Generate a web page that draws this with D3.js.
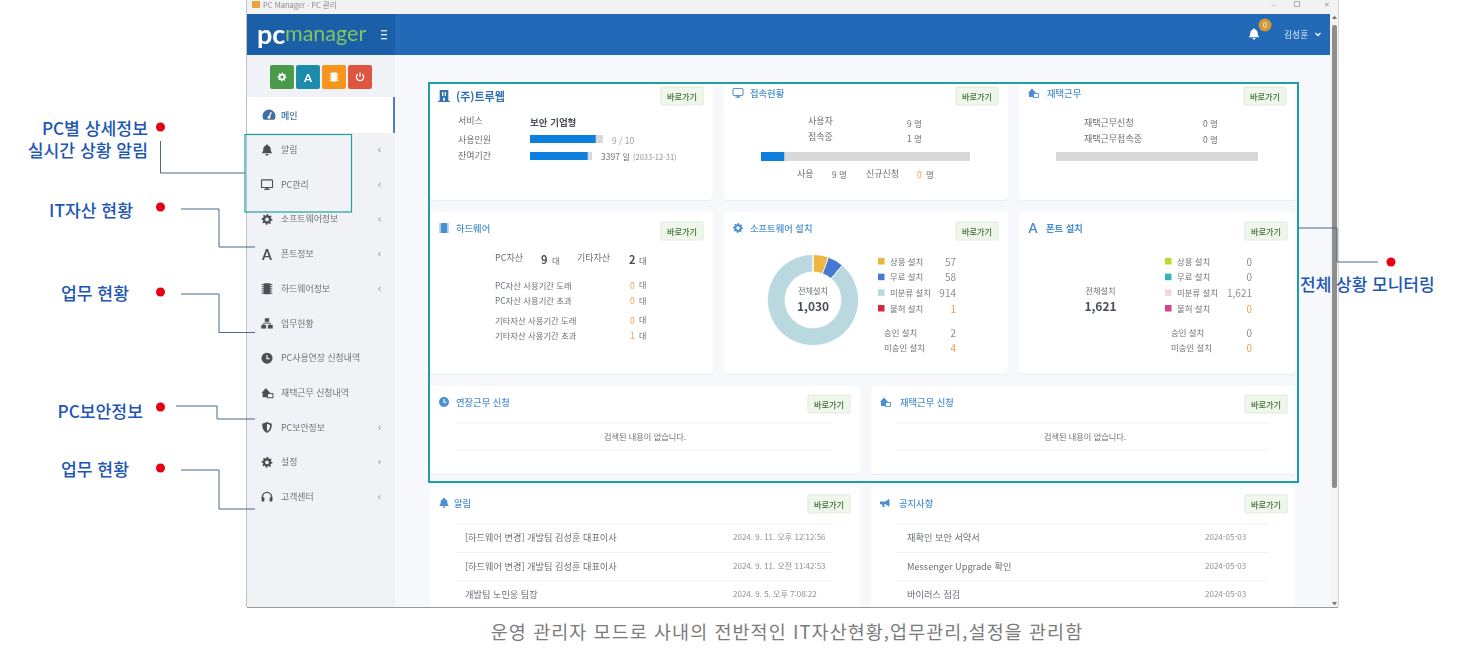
<!DOCTYPE html>
<html lang="ko">
<head>
<meta charset="utf-8">
<title>PC Manager</title>
<script src="https://cdn.jsdelivr.net/npm/d3@7"></script>
<style>
html, body { margin: 0; padding: 0; background: #fff; overflow: hidden; }
text { font-family: "Noto Sans CJK KR", "Noto Sans", sans-serif; }
</style>
</head>
<body>
<div id="chart"></div>
<script>
// data
const menuLabels = ["알림", "PC관리", "소프트웨어정보", "폰트정보", "하드웨어정보", "업무현황", "PC사용연장 신청내역", "재택근무 신청내역", "PC보안정보", "설정", "고객센터"];
const menuIcons = ["bell", "monitor", "gear", "font", "chip", "sitemap", "clock", "house", "shield", "gear", "headset"];
const menuHasArrow = [true, true, true, true, true, false, false, false, true, true, true];

const softwareLabels = ["상용 설치", "무료 설치", "미분류 설치", "불허 설치"];
const softwareValues = [57, 58, 914, 1];
const softwareColors = ["#edb63f", "#4479d4", "#b9d8df", "#d2293f"];
const fontValues = [0, 0, 1621, 0];
const fontColors = ["#bfd72f", "#35b3bd", "#f0d8de", "#d9408f"];
const softwareApproval = [["승인 설치", 2], ["미승인 설치", 4]];
const fontApproval = [["승인 설치", 0], ["미승인 설치", 0]];

const licenseUsed = 9, licenseTotal = 10;
const daysLeft = 3397, daysTotal = 3650;
const usersTotal = 9, usersOnline = 1;

const alertTexts = ["[하드웨어 변경] 개발팀 김성훈 대표이사", "[하드웨어 변경] 개발팀 김성훈 대표이사", "개발팀 노민웅 팀장"];
const alertDates = ["2024. 9. 11. 오후 12:12:56", "2024. 9. 11. 오전 11:42:53", "2024. 9. 5. 오후 7:08:22"];
const noticeTexts = ["재확인 보안 서약서", "Messenger Upgrade 확인", "바이러스 점검"];
const noticeDates = ["2024-05-03", "2024-05-03", "2024-05-03"];

const hwRows = [["PC자산 사용기간 도래", 0], ["PC자산 사용기간 초과", 0], ["기타자산 사용기간 도래", 0], ["기타자산 사용기간 초과", 1]];

const calloutLabels = [["PC별 상세정보", "실시간 상황 알림"], ["IT자산 현황"], ["업무 현황"], ["PC보안정보"], ["업무 현황"]];
const caption = "운영 관리자 모드로 사내의 전반적인 IT자산현황,업무관리,설정을 관리함";

const width = 1467, height = 655;
const svg = d3.select("#chart").append("svg").attr("width", width).attr("height", height).style("display", "block");

// the app part of the picture is a soft screenshot
svg.append("defs").append("filter").attr("id", "soft")
    .attr("x", "0").attr("y", "0").attr("width", "100%").attr("height", "100%")
    .append("feGaussianBlur").attr("stdDeviation", 0.3);

const blue = "#4a90d0", grey = "#6b6f76", dark = "#4a4e57", orange = "#efa04c", teal = "#1f9ea3";

function label(parent, x, y, str, o) {
    o = o || {};
    return parent.append("text")
        .attr("x", x).attr("y", y)
        .attr("dominant-baseline", "central")
        .attr("text-anchor", o.anchor || "start")
        .style("font-size", (o.size || 9) + "px")
        .style("font-weight", o.weight || 400)
        .style("fill", o.color || grey)
        .text(str);
}

function box(parent, x, y, w, h, fill, r) {
    return parent.append("rect").attr("x", x).attr("y", y).attr("width", w).attr("height", h)
        .attr("rx", r || 0).style("fill", fill);
}

function gearPath(r) {
    let d = "";
    const teeth = 8;
    for (let i = 0; i < teeth * 4; i++) {
        const a = (i / (teeth * 4)) * 2 * Math.PI;
        const rr = (i % 4 < 2) ? r : r * 0.74;
        d += (i ? "L" : "M") + (rr * Math.sin(a)).toFixed(2) + "," + (-rr * Math.cos(a)).toFixed(2);
    }
    return d + "Z";
}

// small icons, drawn around (x, y) with size s
function icon(parent, name, x, y, s, color, hole) {
    const g = parent.append("g").attr("transform", `translate(${x},${y}) scale(${s / 10})`).style("fill", color);
    const bg = hole || "#f1f2f6";
    if (name === "gear") {
        g.append("path").attr("d", gearPath(5));
        g.append("circle").attr("r", 1.7).style("fill", bg);
    } else if (name === "bell") {
        g.append("path").attr("d", "M0,-5 C-0.8,-5 -1,-4.4 -1,-4 C-3,-3.4 -3.4,-1.6 -3.4,0 C-3.4,1.5 -4.6,2.4 -4.8,3 L4.8,3 C4.6,2.4 3.4,1.5 3.4,0 C3.4,-1.6 3,-3.4 1,-4 C1,-4.4 0.8,-5 0,-5Z");
        g.append("path").attr("d", "M-1.4,3.6 A1.4,1.4 0 0 0 1.4,3.6Z");
    } else if (name === "monitor") {
        g.append("rect").attr("x", -5).attr("y", -4.4).attr("width", 10).attr("height", 7).attr("rx", 0.6)
            .style("fill", "none").style("stroke", color).style("stroke-width", 1);
        g.append("rect").attr("x", -1.2).attr("y", 2.6).attr("width", 2.4).attr("height", 1.4);
        g.append("rect").attr("x", -2.6).attr("y", 3.8).attr("width", 5.2).attr("height", 0.9);
    } else if (name === "font") {
        g.append("text").attr("text-anchor", "middle").attr("dominant-baseline", "central")
            .style("font-size", "13px").style("font-weight", 700).style("font-family", "Lato, sans-serif").text("A");
    } else if (name === "chip") {
        g.append("rect").attr("x", -3).attr("y", -5).attr("width", 6).attr("height", 10).attr("rx", 1);
        d3.range(5).forEach(i => {
            g.append("rect").attr("x", -4.8).attr("y", -4.4 + i * 2).attr("width", 9.6).attr("height", 0.9);
        });
    } else if (name === "sitemap") {
        g.append("rect").attr("x", -2).attr("y", -4.8).attr("width", 4).attr("height", 3.2);
        g.append("rect").attr("x", -5.2).attr("y", 1.2).attr("width", 4.4).attr("height", 3.4);
        g.append("rect").attr("x", 0.8).attr("y", 1.2).attr("width", 4.4).attr("height", 3.4);
        g.append("path").attr("d", "M-3,1.2 V-0.3 H3 V1.2 M0,-1.6 V-0.3").style("fill", "none").style("stroke", color).style("stroke-width", 0.8);
    } else if (name === "clock") {
        g.append("circle").attr("r", 5);
        g.append("path").attr("d", "M0,-3 V0.3 H2.4").style("fill", "none").style("stroke", bg).style("stroke-width", 1.1);
    } else if (name === "house") {
        g.append("path").attr("d", "M-5,0 L-1,-4.4 L3,0 L2,0 L2,4 L-4,4 L-4,0Z");
        g.append("rect").attr("x", 0.4).attr("y", 0.6).attr("width", 5).attr("height", 3.8)
            .style("fill", bg).style("stroke", color).style("stroke-width", 0.9);
    } else if (name === "shield") {
        g.append("path").attr("d", "M0,-5 L4.4,-3.4 C4.4,0.6 3.2,3.6 0,5 C-3.2,3.6 -4.4,0.6 -4.4,-3.4Z");
        g.append("path").attr("d", "M0,-3.4 L2.8,-2.4 C2.8,0.2 2,2.2 0,3.3Z").style("fill", bg);
    } else if (name === "headset") {
        g.append("path").attr("d", "M-4.2,2 V0 A4.2,4.2 0 0 1 4.2,0 V2").style("fill", "none").style("stroke", color).style("stroke-width", 1.3);
        g.append("rect").attr("x", -4.9).attr("y", 0.2).attr("width", 2.5).attr("height", 4).attr("rx", 0.8);
        g.append("rect").attr("x", 2.4).attr("y", 0.2).attr("width", 2.5).attr("height", 4).attr("rx", 0.8);
    } else if (name === "gauge") {
        g.append("path").attr("d", "M-4.4,4 A5.4,5.4 0 1 1 4.4,4Z");
        g.append("path").attr("d", "M0,2.2 L1.8,-2.4").style("stroke", "#fff").style("stroke-width", 1.1);
        g.append("circle").attr("cy", 2).attr("r", 1.2).style("fill", "#fff");
    } else if (name === "building") {
        g.append("rect").attr("x", -3.6).attr("y", -5).attr("width", 7.2).attr("height", 9.2);
        g.append("rect").attr("x", -4.8).attr("y", 4).attr("width", 9.6).attr("height", 1);
        g.append("rect").attr("x", -1.6).attr("y", -3.4).attr("width", 1.1).attr("height", 3.4).style("fill", "#fff");
        g.append("rect").attr("x", 0.6).attr("y", -3.4).attr("width", 1.1).attr("height", 3.4).style("fill", "#fff");
        g.append("rect").attr("x", -0.7).attr("y", 1.4).attr("width", 1.4).attr("height", 2.6).style("fill", "#fff");
    } else if (name === "bullhorn") {
        g.append("path").attr("d", "M-5,-1.6 L0.5,-1.6 L4.4,-4.2 L4.4,3.8 L0.5,1.2 L-1,1.2 L-0.2,4 L-2.2,4 L-3.2,1.2 L-5,1.2Z");
    } else if (name === "power") {
        g.append("path").attr("d", "M-2.6,-3 A4,4 0 1 0 2.6,-3").style("fill", "none").style("stroke", color).style("stroke-width", 1.4);
        g.append("rect").attr("x", -0.7).attr("y", -5).attr("width", 1.4).attr("height", 4.8);
    }
    return g;
}

// --- window frame ---
const win = svg.append("g").attr("filter", "url(#soft)");
box(win, 247, 0, 1091, 607, "#f6f8fc");
win.append("line").attr("x1", 246.5).attr("x2", 246.5).attr("y1", 0).attr("y2", 607).style("stroke", "#bfc2c6");
win.append("line").attr("x1", 1338.5).attr("x2", 1338.5).attr("y1", 0).attr("y2", 607).style("stroke", "#d8d8d8");

// title bar
box(win, 247, 0, 1091, 14, "#f2f2f2");
box(win, 252, 1, 8, 7, "#e8a33c");
label(win, 263, 4, "PC Manager · PC 관리", { size: 7.5, color: "#8a8a8a" });
label(win, 1271, 3.5, "—", { size: 6.5, color: "#9a9a9a" });
win.append("rect").attr("x", 1294.5).attr("y", 1.5).attr("width", 5).attr("height", 5).style("fill", "none").style("stroke", "#b0b0b0");
label(win, 1324, 4, "✕", { size: 7, color: "#9a9a9a" });

// header
box(win, 247, 14, 1083, 41, "#2169b8");
box(win, 247, 14, 148, 41, "#1f5fa9");
label(win, 257, 33, "pc", { size: 27, weight: 700, color: "#fff" }).style("font-family", "Lato, sans-serif");
label(win, 285, 33, "manager", { size: 21.5, weight: 400, color: "#7fc562" }).style("font-family", "Lato, sans-serif");
[31, 35, 39].forEach(y => box(win, 381, y - 1, 6, 1.4, "#dfe9f4"));
icon(win, "bell", 1254, 34, 11, "#fff");
win.append("circle").attr("cx", 1265).attr("cy", 25).attr("r", 6.5).style("fill", "#d19a35");
label(win, 1265, 25, "0", { size: 7, color: "#fff", anchor: "middle" });
label(win, 1284, 34.5, "김성훈", { size: 8.8, color: "#e6eef7" });
win.append("path").attr("d", "M1315.5,33 L1318,35.5 L1320.5,33").style("fill", "none").style("stroke", "#fff").style("stroke-width", 1.3);

// scrollbar
box(win, 1330, 14, 8, 593, "#f4f4f4");
box(win, 1332, 25, 5, 463, "#8e8e8e", 2);
win.append("path").attr("d", "M1332,19 L1334.5,15.5 L1337,19Z").style("fill", "#777");
win.append("path").attr("d", "M1332,602 L1334.5,605.5 L1337,602Z").style("fill", "#777");

// --- sidebar ---
const side = svg.append("g").attr("filter", "url(#soft)");
box(side, 247, 55, 148, 552, "#f1f2f6");
const quickColors = ["#4a9a4a", "#1c8cad", "#f7941d", "#de563f"];
const quickIcons = ["gear", "font", "chip", "power"];
const quickX = d3.scaleBand().domain(d3.range(4)).range([270, 372]).paddingInner(0.08);
quickColors.forEach((c, i) => {
    box(side, quickX(i), 65, quickX.bandwidth(), 24, c, 2);
    icon(side, quickIcons[i], quickX(i) + quickX.bandwidth() / 2, 77, 9, "#fff", c);
});
box(side, 247, 97, 148, 36, "#fff");
box(side, 393, 97, 2, 36, "#4d7fb5");
icon(side, "gauge", 269, 115, 12, "#3f6fa3");
label(side, 281, 115, "메인", { size: 9, weight: 500, color: "#3f6fa3" });

const menuY = d3.scalePoint().domain(d3.range(menuLabels.length)).range([150, 497]);
menuLabels.forEach((m, i) => {
    const y = menuY(i);
    icon(side, menuIcons[i], 267, y, 11, "#4c4f55");
    label(side, 281, y - 0.5, m, { size: 8.9, color: "#6f7278" });
    if (menuHasArrow[i]) {
        side.append("path").attr("d", `M380.5,${y - 1.8} L378.5,${y} L380.5,${y + 1.8}`)
            .style("fill", "none").style("stroke", "#8a8d92").style("stroke-width", 1);
    }
});

// --- cards ---
const main = svg.append("g").attr("filter", "url(#soft)");
function card(x, y, w, h, iconName, title, btnX, titleOpts) {
    const g = main.append("g");
    g.append("rect").attr("x", x).attr("y", y + 1).attr("width", w).attr("height", h).attr("rx", 4).style("fill", "#e9ecf2");
    g.append("rect").attr("x", x).attr("y", y).attr("width", w).attr("height", h).attr("rx", 4).style("fill", "#fff");
    const o = titleOpts || {};
    icon(g, iconName, x + 14, y + o.dy, o.iconSize || 10, o.color || blue, "#fff");
    label(g, x + (o.tx || 26), y + o.dy, title, { size: o.size || 9.3, weight: o.weight || 500, color: o.color || blue });
    box(g, btnX, y + 4 + o.by, 42, 18, "#eef7ea", 1).style("stroke", "#dfe9dc");
    label(g, btnX + 21, y + 13 + o.by, "바로가기", { size: 8.2, weight: 500, color: "#3f6b3a", anchor: "middle" });
    return g;
}
function bar(g, x0, x1, y, h, frac, bg) {
    const s = d3.scaleLinear().domain([0, 1]).range([x0, x1]);
    box(g, s(0), y, s(1) - s(0), h, bg || "#d9d9d9");
    if (frac > 0) box(g, s(0), y, s(frac) - s(0), h, "#0f7fde");
}

// company
const c1 = card(430, 83, 283, 117, "building", "(주)트루웹", 661, { dy: 13, by: 0, size: 11, weight: 700, color: "#2f6fb0", iconSize: 12 });
label(c1, 458, 120.5, "서비스");
label(c1, 530, 122, "보안 기업형", { size: 9.5, weight: 700, color: dark });
label(c1, 458, 139, "사용인원");
bar(c1, 530, 603, 135, 8, licenseUsed / licenseTotal);
label(c1, 612, 140, `${licenseUsed} / ${licenseTotal}`, { size: 8.5, color: "#9a9da2" });
label(c1, 458, 155, "잔여기간");
bar(c1, 530, 592, 152, 8, daysLeft / daysTotal);
label(c1, 601, 155.5, `${daysLeft} 일`, { size: 8.5 });
label(c1, 633, 156, "(2033-12-31)", { size: 7.5, color: "#8b8e93" });

// connections
const c2 = card(724, 83, 284, 117, "monitor", "접속현황", 956, { dy: 10, by: 0 });
label(c2, 808, 120.5, "사용자");
label(c2, 808, 136.5, "접속중");
label(c2, 907, 122.5, `${usersTotal} 명`, { size: 8.5 });
label(c2, 907, 138, `${usersOnline} 명`, { size: 8.5 });
bar(c2, 761, 970, 152, 9, usersOnline / usersTotal);
label(c2, 797, 173, "사용");
label(c2, 832, 173.5, `${usersTotal} 명`, { size: 8.5 });
label(c2, 866, 173, "신규신청");
label(c2, 917, 173.5, "0", { size: 8.5, color: orange });
label(c2, 926, 173.5, "명", { size: 8.5 });

// remote work
const c3 = card(1019, 83, 276, 117, "house", "재택근무", 1244, { dy: 10, by: 0, tx: 28 });
label(c3, 1084, 122, "재택근무신청");
label(c3, 1084, 138, "재택근무접속중");
label(c3, 1203, 122.5, "0 명", { size: 8.5 });
label(c3, 1203, 138.5, "0 명", { size: 8.5 });
bar(c3, 1056, 1258, 152, 9, 0);

// hardware
const c4 = card(430, 212, 283, 162, "chip", "하드웨어", 661, { dy: 16, by: 6 });
label(c4, 495, 257.5, "PC자산");
label(c4, 541, 259, "9", { size: 11, weight: 700, color: dark });
label(c4, 552, 259.5, "대", { size: 8.5 });
label(c4, 577, 257, "기타자산");
label(c4, 629, 259, "2", { size: 11, weight: 700, color: dark });
label(c4, 639, 259.5, "대", { size: 8.5 });
const hwY = [284.5, 300, 319.5, 335];
hwRows.forEach((r, i) => {
    label(c4, 495, hwY[i], r[0], { size: 8.35 });
    label(c4, 630, hwY[i], r[1], { size: 8.5, color: orange });
    label(c4, 639, hwY[i], "대", { size: 8 });
});

// install legend block used by software and font cards
function legendBlock(g, labels, values, colors, approval, swatchX, textX, numX) {
    const rowY = d3.scalePoint().domain(d3.range(labels.length)).range([261, 308]);
    labels.forEach((l, i) => {
        box(g, swatchX, rowY(i) - 3, 6.5, 6.5, colors[i]);
        label(g, textX, rowY(i) - 0.5, l, { size: 8.4 });
        label(g, numX, rowY(i), d3.format(",")(values[i]), { size: 10, anchor: "end", color: i === 3 ? orange : "#8b8e93" });
    });
    const apY = [332, 347.5];
    approval.forEach((a, i) => {
        label(g, swatchX + 6, apY[i] - 0.5, a[0], { size: 8.4 });
        label(g, numX, apY[i], a[1], { size: 10, anchor: "end", color: i === 1 ? orange : "#8b8e93" });
    });
}

// software, donut
const c5 = card(724, 212, 284, 162, "gear", "소프트웨어 설치", 956, { dy: 16, by: 6 });
const pie = d3.pie().sort(null).value(d => d);
const arc = d3.arc().innerRadius(28).outerRadius(45.5);
const donut = c5.append("g").attr("transform", "translate(813,300)");
donut.selectAll("path")
    .data(pie(softwareValues))
    .enter()
    .append("path")
    .attr("d", arc)
    .style("fill", (d, i) => softwareColors[i])
    .style("stroke", "#fff")
    .style("stroke-width", 0.8);
label(donut, 0, -10, "전체설치", { size: 8.2, anchor: "middle" });
label(donut, 0, 5, d3.format(",")(d3.sum(softwareValues)), { size: 12, weight: 700, color: dark, anchor: "middle" });
legendBlock(c5, softwareLabels, softwareValues, softwareColors, softwareApproval, 878, 890, 956);

// font
const c6 = card(1019, 212, 276, 162, "font", "폰트 설치", 1245, { dy: 16, by: 6, weight: 700, tx: 27 });
label(c6, 1100.5, 290, "전체설치", { size: 8.2, anchor: "middle" });
label(c6, 1100.5, 305, d3.format(",")(d3.sum(fontValues)), { size: 12, weight: 700, color: dark, anchor: "middle" });
legendBlock(c6, softwareLabels, fontValues, fontColors, fontApproval, 1165, 1177, 1252);

// requests
const c7 = card(430, 386, 430, 88, "clock", "연장근무 신청", 808, { dy: 16, by: 5 });
const c8 = card(871, 386, 424, 88, "house", "재택근무 신청", 1245, { dy: 16, by: 5, tx: 29 });
[[c7, 456, 832, 645], [c8, 896, 1268, 1085]].forEach(a => {
    [423, 450].forEach(y => a[0].append("line").attr("x1", a[1]).attr("x2", a[2]).attr("y1", y).attr("y2", y).style("stroke", "#f0f1f3"));
    label(a[0], a[3], 436, "검색된 내용이 없습니다.", { size: 8.2, anchor: "middle" });
});

// lists, clipped at the window bottom
const c9 = card(430, 487, 430, 125, "bell", "알림", 808, { dy: 16, by: 4, tx: 24 });
const c10 = card(871, 487, 424, 125, "bullhorn", "공지사항", 1245, { dy: 16, by: 4, tx: 28 });
const listY = d3.scalePoint().domain([0, 1, 2]).range([537, 594]);
function listRows(g, texts, dates, lx0, lx1, tx, dx) {
    texts.forEach((t, i) => {
        const lineY = 524 + i * 28.5;
        g.append("line").attr("x1", lx0).attr("x2", lx1).attr("y1", lineY).attr("y2", lineY).style("stroke", "#f0f1f3");
        label(g, tx, listY(i), t, { size: 9.2 });
        label(g, dx, listY(i) - 0.5, dates[i], { size: 8, color: "#8b8e93" });
    });
}
listRows(c9, alertTexts, alertDates, 456, 832, 465, 733);
listRows(c10, noticeTexts, noticeDates, 896, 1268, 907, 1205);

// hide what runs past the window, redraw its bottom edge
box(svg, 245, 608, 1096, 47, "#fff");
svg.append("line").attr("x1", 247).attr("x2", 1338).attr("y1", 607.5).attr("y2", 607.5).style("stroke", "#9a9a9a");

// --- callouts ---
const over = svg.append("g");
over.append("rect").attr("x", 429).attr("y", 83).attr("width", 869).attr("height", 399)
    .style("fill", "none").style("stroke", teal).style("stroke-width", 2);
over.append("rect").attr("x", 245).attr("y", 134.5).attr("width", 106.5).attr("height", 77.5)
    .style("fill", "none").style("stroke", teal).style("stroke-width", 1.2);

const calloutDots = [127, 207, 292, 407, 468];
const calloutEnds = [148, 133, 129, 143, 129];
const calloutTextY = [126.5, 208.5, 291.5, 409.5, 467.5];
const leaders = [
    "M160.5,141 V173 H245",
    "M181,209 H219 V247 H255",
    "M181,294 H219 V332.5 H255",
    "M176,406 H217 V419 H255",
    "M181,470 H219 V509 H255",
    "M1298,228 H1337 V262 H1378"
];
const calloutBlue = "#1d56b4";
calloutLabels.forEach((lines, i) => {
    const t = label(over, calloutEnds[i], calloutTextY[i], null, { size: 17.2, weight: 500, color: calloutBlue, anchor: "end" });
    lines.forEach((s, j) => {
        t.append("tspan").attr("x", calloutEnds[i]).attr("dy", j ? 22 : 0).attr("dominant-baseline", "central").text(s);
    });
    over.append("circle").attr("cx", 160.5).attr("cy", calloutDots[i]).attr("r", 4.5).style("fill", "#e60012");
});
leaders.forEach(d => over.append("path").attr("d", d).style("fill", "none").style("stroke", "#47698a").style("stroke-width", 1));
over.append("circle").attr("cx", 1391).attr("cy", 262).attr("r", 4.5).style("fill", "#e60012");
label(over, 1300, 283.5, "전체 상황 모니터링", { size: 17, weight: 500, color: calloutBlue });

label(svg, 787, 630.5, caption, { size: 18.5, color: "#7b7b7b", anchor: "middle" }).style("letter-spacing", "1.05px");
</script>
</body>
</html>
